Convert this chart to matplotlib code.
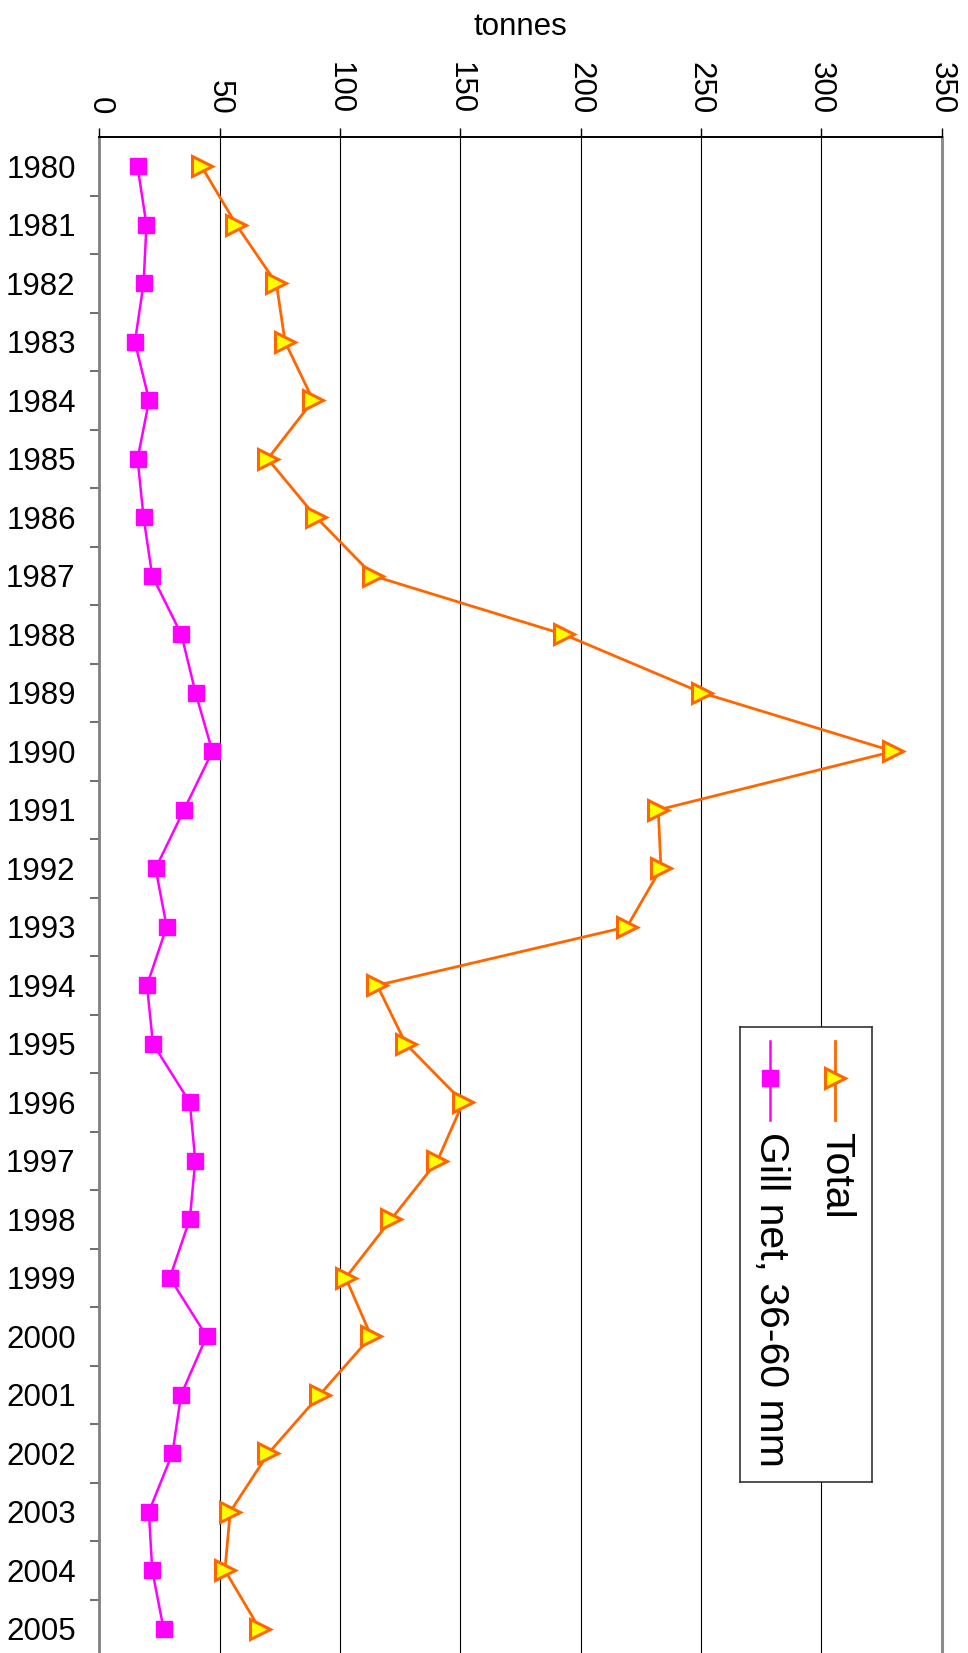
import numpy as np
import matplotlib; matplotlib.use("Agg")
import matplotlib.pyplot as plt
from matplotlib.ticker import FixedLocator

plt.rcParams["font.family"] = ["Liberation Sans", "DejaVu Sans"]

# data (tonnes per year)
YEARS = list(range(1980, 2006))
TOTAL = [42.5, 57.0, 73.6, 77.2, 88.9, 70.0, 90.2, 113.9, 193.0, 250.5,
         330.0, 232.3, 233.4, 219.3, 115.5, 127.4, 151.2, 140.5, 121.3, 102.4,
         113.0, 91.6, 70.3, 54.4, 52.2, 66.6]
GILL = [15.9, 19.6, 18.4, 14.8, 20.7, 15.9, 18.4, 22.0, 34.1, 40.0,
        47.0, 35.2, 23.4, 28.0, 19.8, 22.3, 37.6, 39.9, 37.6, 29.3,
        44.6, 34.0, 30.4, 20.6, 22.0, 26.7]
XTICKS = [0, 50, 100, 150, 200, 250, 300, 350]
SERIES = ["Total", "Gill net, 36-60 mm"]

ORANGE, YELLOW, MAGENTA = "#FF6600", "#FFFF00", "#FF00FF"
TOT_STYLE = dict(color=ORANGE, lw=2.0, marker=">", ms=15, mfc=YELLOW, mec=ORANGE, mew=2.2)
GIL_STYLE = dict(color=MAGENTA, lw=1.8, marker="s", ms=12, mfc=MAGENTA, mec=MAGENTA)
FS = 22.5

W, H = 968, 1653
fig = plt.figure(figsize=(W / 100, H / 100), dpi=100)
top_px, bot_px, left_px, right_px = 137.2, 1658, 99.3, 941.5
ax = fig.add_axes([left_px / W, 1 - bot_px / H, (right_px - left_px) / W,
                   (bot_px - top_px) / H])

ax.plot(TOTAL, YEARS, zorder=4, **TOT_STYLE)
ax.plot(GILL, YEARS, zorder=4, **GIL_STYLE)

ax.set_xlim(XTICKS[0], XTICKS[-1])
ax.set_ylim(YEARS[-1] + 0.5, YEARS[0] - 0.5)

# x axis on top, rotated labels
ax.xaxis.tick_top()
ax.xaxis.set_label_position("top")
ax.set_xticks(XTICKS)
ax.set_xticklabels([str(t) for t in XTICKS], rotation=-90, fontsize=FS)
ax.tick_params(axis="x", which="major", direction="out", length=6.5, width=1.0,
               color="black", pad=10)
ax.set_xlabel("tonnes", fontsize=FS, va="center")
ax.xaxis.set_label_coords(0.5, 1.0725)

# y axis: years as labels, ticks between years
ax.yaxis.set_major_locator(FixedLocator(YEARS))
ax.set_yticklabels([str(y) for y in YEARS], fontsize=FS)
ax.yaxis.set_minor_locator(FixedLocator([y + 0.5 for y in YEARS[:-1]]))
ax.tick_params(axis="y", which="major", length=0, pad=17)
ax.tick_params(axis="y", which="minor", direction="out", length=6.5, width=1.2,
               color="#555555")

ax.grid(axis="x", color="black", lw=0.8, zorder=1)
ax.set_axisbelow(True)
ax.spines["bottom"].set_visible(False)
ax.spines["top"].set_color("black")
ax.spines["top"].set_linewidth(1.4)
ax.spines["left"].set_color("#808080")
ax.spines["left"].set_linewidth(2.0)
ax.spines["right"].set_color("#8c8c8c")
ax.spines["right"].set_linewidth(2.2)

# rotated legend drawn in its own box
lg = fig.add_axes([740 / W, 1 - 1482 / H, 132 / W, 455 / H])
lg.set_xlim(0, 1); lg.set_ylim(0, 1)
lg.set_xticks([]); lg.set_yticks([])
lg.set_facecolor("white")
for s in lg.spines.values():
    s.set_color("#333333"); s.set_linewidth(1.2)
for xc, label, style in [(0.72, SERIES[0], TOT_STYLE), (0.227, SERIES[1], GIL_STYLE)]:
    lg.plot([xc, xc], [0.969, 0.796], color=style["color"], lw=style["lw"])
    lg.plot([xc], [0.888], marker=style["marker"], ls="none",
            **{k: v for k, v in style.items() if k in ("ms", "mfc", "mec", "mew")})
    lg.text(xc + 0.01, 0.77, label, rotation=-90, ha="center", va="top", fontsize=29.5)

fig.savefig("out.png", dpi=100)
